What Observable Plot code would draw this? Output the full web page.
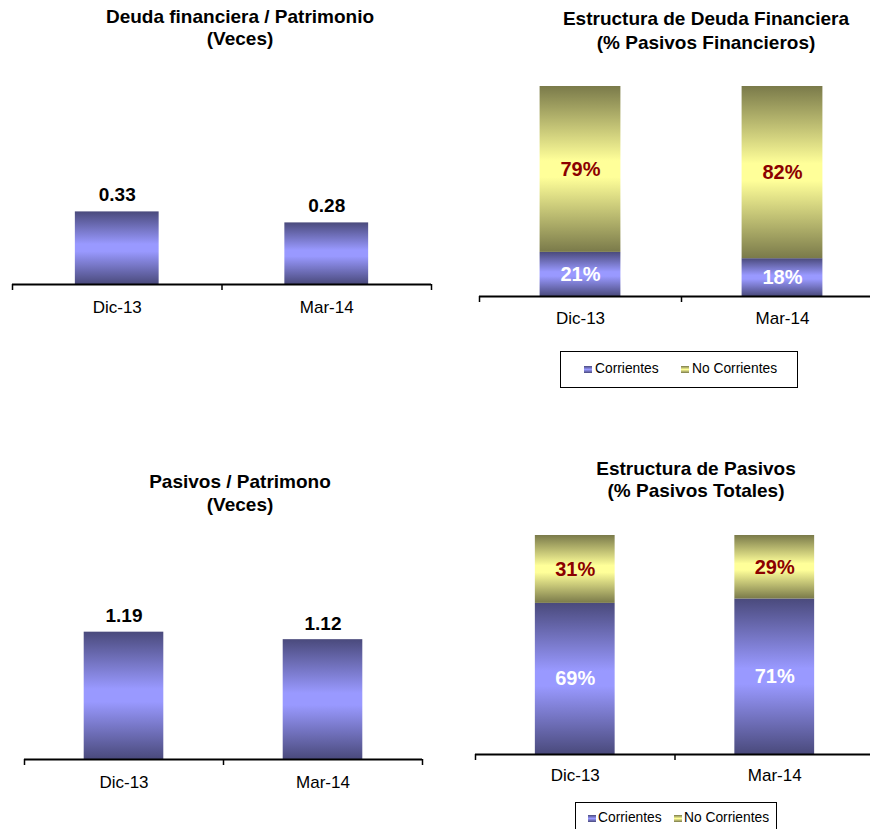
<!DOCTYPE html>
<html><head><meta charset="utf-8">
<script src="https://cdn.jsdelivr.net/npm/d3@7"></script>
<script src="https://cdn.jsdelivr.net/npm/@observablehq/plot@0.6"></script>
<style>
html,body{margin:0;padding:0;background:#fff;overflow:hidden;}
#root{position:relative;width:870px;height:829px;overflow:hidden;font-family:"Liberation Sans",Arial,sans-serif;color:#000;}
.tl{position:absolute;transform:translate(-50%,-50%);font-weight:bold;font-size:19px;line-height:21px;white-space:nowrap;}
.panel{position:absolute;}
.panel svg{max-width:none !important;}
.legend{position:absolute;border:1px solid #000;background:#fff;font-size:13.8px;box-sizing:border-box;}
.legend .sw{position:absolute;width:8px;height:7px;}
.legend .tx{position:absolute;transform:translateY(-50%);white-space:nowrap;line-height:16px;}
.sw.c{background:linear-gradient(#4a4a7c,#9999ff 50%,#4a4a7c);}
.sw.n{background:linear-gradient(#7a7a4a,#ffff99 50%,#7a7a4a);}
</style></head><body>
<svg width="0" height="0" style="position:absolute"><defs>
<linearGradient id="gPurple" x1="0" y1="0" x2="0" y2="1">
<stop offset="0" stop-color="#4a4a7c"/><stop offset="0.45" stop-color="#9999ff"/><stop offset="0.55" stop-color="#9999ff"/><stop offset="1" stop-color="#4a4a7c"/>
</linearGradient>
<linearGradient id="gYellow" x1="0" y1="0" x2="0" y2="1">
<stop offset="0" stop-color="#7a7a4a"/><stop offset="0.45" stop-color="#ffff99"/><stop offset="0.55" stop-color="#ffff99"/><stop offset="1" stop-color="#7a7a4a"/>
</linearGradient>
</defs></svg>
<div id="root"></div>
<script>
// ---- data ----
const categories = ["Dic-13", "Mar-14"];
const deudaPatrimonio = [0.33, 0.28];
const pasivosPatrimonio = [1.19, 1.12];
const seriesNames = ["Corrientes", "No Corrientes"];
const deudaCorrientes = [21, 18];
const deudaNoCorrientes = [79, 82];
const pasivosCorrientes = [69, 71];
const pasivosNoCorrientes = [31, 29];
const titles = [
  ["Deuda financiera / Patrimonio", "(Veces)"],
  ["Estructura de Deuda Financiera", "(% Pasivos Financieros)"],
  ["Pasivos / Patrimono", "(Veces)"],
  ["Estructura de Pasivos", "(% Pasivos Totales)"]
];

const root = document.getElementById("root");
const FONT = "Liberation Sans, Arial, sans-serif";

function addTitle(lines, cx, ys) {
  lines.forEach((t, k) => {
    const d = document.createElement("div");
    d.className = "tl";
    d.textContent = t;
    d.style.left = cx + "px";
    d.style.top = ys[k] + "px";
    root.appendChild(d);
  });
}

function axisMarks(padding) {
  return [
    Plot.ruleY([0], {stroke: "#000", strokeWidth: 2}),
    Plot.axisX({ticks: [0, 1, 2], tickSize: 6, tickFormat: () => "", strokeWidth: 1.5}),
    Plot.axisX({ticks: [0.5, 1.5], tickSize: 0, tickPadding: padding, fontSize: 17,
      tickFormat: (v) => categories[Math.floor(v)]})
  ];
}

function place(svg, left, top) {
  const wrap = document.createElement("div");
  wrap.className = "panel";
  wrap.style.left = left + "px";
  wrap.style.top = top + "px";
  wrap.appendChild(svg);
  root.appendChild(wrap);
}

function simplePanel(values, o) {
  const rows = values.map((v, i) => ({i, v, cat: categories[i]}));
  const svg = Plot.plot({
    width: o.width, height: o.height,
    marginLeft: o.mL, marginRight: o.mR, marginTop: o.mT, marginBottom: o.mB,
    style: {fontFamily: FONT, background: "transparent", color: "#000", overflow: "visible"},
    x: {domain: [0, 2], axis: null},
    y: {domain: [0, o.yMax], axis: null},
    marks: [
      Plot.rectY(rows, {x1: d => d.i + 0.3, x2: d => d.i + 0.7, y1: 0, y2: "v", fill: "url(#gPurple)"}),
      Plot.text(rows, {x: d => d.i + 0.5, y: "v", text: d => d3.format(".2f")(d.v),
        dy: o.labelDy, fontSize: 19, fontWeight: "bold", fill: "#000", lineAnchor: "middle"}),
      ...axisMarks(o.pad)
    ]
  });
  place(svg, o.left, o.top);
}

function stackPanel(bottom, topVals, o) {
  const rows = [];
  categories.forEach((c, i) => {
    rows.push({i, s: seriesNames[0], y1: 0, y2: bottom[i], v: bottom[i]});
    rows.push({i, s: seriesNames[1], y1: bottom[i], y2: bottom[i] + topVals[i], v: topVals[i]});
  });
  const svg = Plot.plot({
    width: o.width, height: o.height,
    marginLeft: o.mL, marginRight: o.mR, marginTop: o.mT, marginBottom: o.mB,
    style: {fontFamily: FONT, background: "transparent", color: "#000", overflow: "visible"},
    x: {domain: [0, 2], axis: null},
    y: {domain: [0, 100], axis: null},
    marks: [
      Plot.rectY(rows, {x1: d => d.i + 0.3, x2: d => d.i + 0.7, y1: "y1", y2: "y2",
        fill: d => d.s === seriesNames[0] ? "url(#gPurple)" : "url(#gYellow)"}),
      Plot.text(rows, {x: d => d.i + 0.5, y: d => (d.y1 + d.y2) / 2, text: d => d.v + "%",
        fontSize: 20, fontWeight: "bold", lineAnchor: "middle",
        fill: d => d.s === seriesNames[0] ? "#ffffff" : "#8b0000"}),
      ...axisMarks(o.pad)
    ]
  });
  place(svg, o.left, o.top);
}

function addLegend(o) {
  const L = document.createElement("div");
  L.className = "legend";
  Object.assign(L.style, {left: o.left + "px", top: o.top + "px", width: o.w + "px", height: o.h + "px"});
  seriesNames.forEach((name, k) => {
    const sw = document.createElement("div");
    sw.className = "sw " + (k === 0 ? "c" : "n");
    sw.style.left = o.sx[k] + "px";
    sw.style.top = (o.cy - 3.5) + "px";
    const tx = document.createElement("div");
    tx.className = "tx";
    tx.textContent = name;
    tx.style.left = o.tx[k] + "px";
    tx.style.top = o.cy + "px";
    L.appendChild(sw); L.appendChild(tx);
  });
  root.appendChild(L);
}

// Panel 1
simplePanel(deudaPatrimonio, {left: 0, top: 0, width: 440, height: 330, mL: 12, mR: 9, mT: 64, mB: 46, yMax: 1, labelDy: -17, pad: 16});
addTitle(titles[0], 240, [16, 38]);
// Panel 2
stackPanel(deudaCorrientes, deudaNoCorrientes, {left: 470, top: 0, width: 420, height: 340, mL: 9, mR: 7, mT: 86, mB: 44, pad: 15});
addTitle(titles[1], 706, [18, 42]);
addLegend({left: 560, top: 351, w: 238, h: 37, cy: 17, sx: [23, 120], tx: [34, 131]});
// Panel 3
simplePanel(pasivosPatrimonio, {left: 0, top: 440, width: 440, height: 370, mL: 24, mR: 18, mT: 105, mB: 51, yMax: 2, labelDy: -16, pad: 16});
addTitle(titles[2], 240, [481, 504]);
// Panel 4
stackPanel(pasivosCorrientes, pasivosNoCorrientes, {left: 466, top: 440, width: 420, height: 360, mL: 9, mR: 12, mT: 95, mB: 46, pad: 14});
addTitle(titles[3], 696, [468, 490]);
addLegend({left: 575, top: 802, w: 202, h: 40, cy: 15, sx: [12, 98], tx: [22, 108]});
</script>
</body></html>
